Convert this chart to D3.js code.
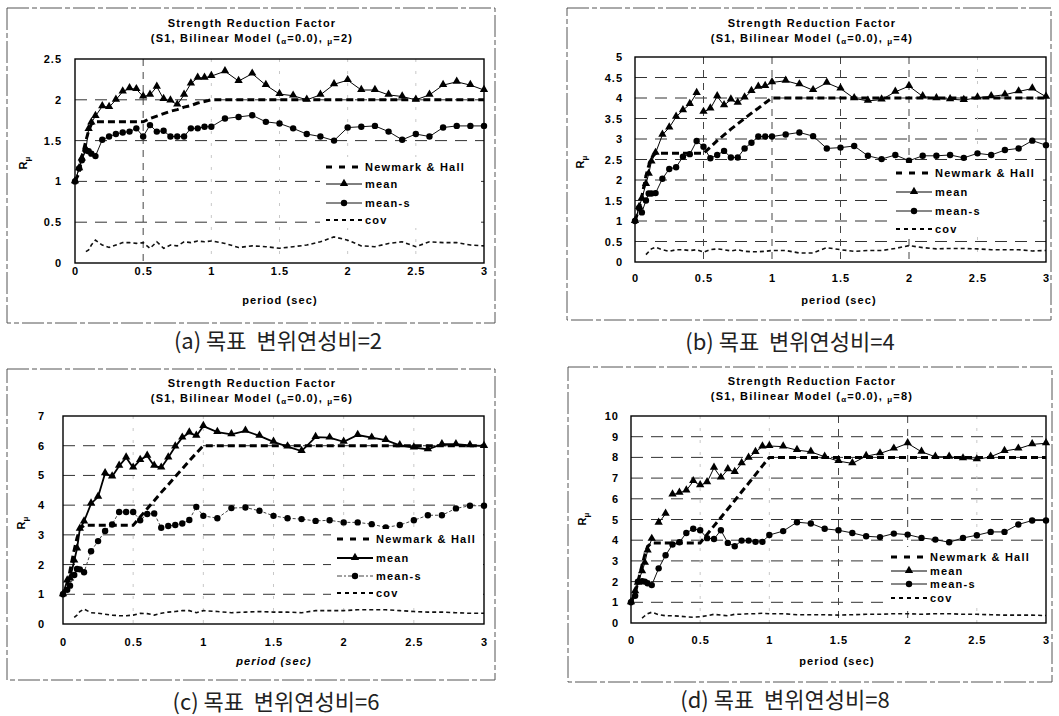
<!DOCTYPE html>
<html>
<head>
<meta charset="utf-8">
<script src="https://cdn.jsdelivr.net/npm/d3@7"></script>
<style>
  body { margin: 0; background: #fff; }
  svg { display: block; }
  text.caption { white-space: pre; }
</style>
</head>
<body>
<svg id="chart" width="1059" height="716"></svg>
<script>
// Natural period (sec) shared by all four panels
const periods = [0, 0.03, 0.05, 0.08, 0.1, 0.12, 0.15,
  0.2, 0.25, 0.3, 0.35, 0.4, 0.45, 0.5, 0.55, 0.6, 0.65, 0.7, 0.75, 0.8, 0.85, 0.9, 0.95, 1.0,
  1.1, 1.2, 1.3, 1.4, 1.5, 1.6, 1.7, 1.8, 1.9, 2.0, 2.1, 2.2, 2.3, 2.4, 2.5, 2.6, 2.7, 2.8, 2.9, 3.0];

const xTicks = [0, 0.5, 1, 1.5, 2, 2.5, 3];

// (a) target ductility 2
const nhA = [1.0, 1.1, 1.3, 1.5, 1.62, 1.7, 1.73,
  1.73, 1.73, 1.73, 1.73, 1.73, 1.73, 1.73, 1.77, 1.80, 1.83, 1.86, 1.88, 1.91, 1.93, 1.96, 1.98, 2.0,
  2, 2, 2, 2, 2, 2, 2, 2, 2, 2, 2, 2, 2, 2, 2, 2, 2, 2, 2, 2];
const meanA = [1.0, 1.16, 1.28, 1.39, 1.64, 1.72, 1.80,
  1.92, 1.91, 2.0, 2.10, 2.14, 2.13, 2.04, 2.06, 2.16, 2.01, 1.99, 1.94, 2.06, 2.20, 2.27, 2.27, 2.29,
  2.35, 2.23, 2.32, 2.18, 2.07, 2.05, 2.0, 2.06, 2.19, 2.24, 2.12, 2.12, 2.06, 2.04, 2.0, 2.06, 2.18, 2.22, 2.18, 2.12];
const meanSA = [1.0, 1.16, 1.26, 1.38, 1.37, 1.34, 1.31,
  1.51, 1.55, 1.58, 1.60, 1.61, 1.65, 1.55, 1.69, 1.61, 1.62, 1.55, 1.55, 1.55, 1.65, 1.65, 1.67, 1.67,
  1.77, 1.79, 1.81, 1.73, 1.71, 1.65, 1.58, 1.55, 1.50, 1.66, 1.67, 1.68, 1.61, 1.51, 1.58, 1.55, 1.66, 1.68, 1.68, 1.68];
const covA = [null, null, null, 0.14, 0.16, 0.22, 0.28,
  0.22, 0.19, 0.22, 0.25, 0.25, 0.24, 0.25, 0.18, 0.26, 0.18, 0.22, 0.21, 0.26, 0.25, 0.27, 0.26, 0.27,
  0.24, 0.19, 0.21, 0.20, 0.18, 0.20, 0.22, 0.26, 0.32, 0.28, 0.21, 0.20, 0.24, 0.26, 0.20, 0.26, 0.25, 0.25, 0.22, 0.21];
const yTicksA = [0, 0.5, 1, 1.5, 2, 2.5];

// (b) target ductility 4
const nhB = [1.0, 1.3, 1.6, 2.1, 2.35, 2.55, 2.65,
  2.65, 2.65, 2.65, 2.65, 2.65, 2.65, 2.65, 2.80, 2.96, 3.10, 3.24, 3.37, 3.50, 3.63, 3.75, 3.88, 4.0,
  4, 4, 4, 4, 4, 4, 4, 4, 4, 4, 4, 4, 4, 4, 4, 4, 4, 4, 4, 4];
const meanB = [1.0, 1.34, 1.55, 1.90, 2.15, 2.45, 2.66,
  3.10, 3.28, 3.54, 3.70, 3.85, 4.12, 3.66, 3.74, 4.04, 3.82, 3.96, 3.88, 4.01, 4.17, 4.27, 4.29, 4.38,
  4.42, 4.33, 4.19, 4.37, 4.23, 3.99, 3.93, 3.96, 4.15, 4.29, 4.04, 3.99, 3.97, 3.95, 4.01, 4.04, 4.08, 4.16, 4.23, 4.03];
const meanSB = [1.0, 1.32, 1.21, 1.50, 1.67, 1.67, 1.68,
  2.03, 2.27, 2.31, 2.57, 2.63, 2.95, 2.81, 2.53, 2.61, 2.71, 2.55, 2.55, 2.77, 2.91, 3.06, 3.06, 3.06,
  3.11, 3.16, 3.07, 2.77, 2.79, 2.83, 2.59, 2.51, 2.61, 2.47, 2.59, 2.59, 2.61, 2.54, 2.65, 2.61, 2.73, 2.77, 2.96, 2.85];
const covB = [null, null, null, 0.18, 0.25, 0.32, 0.36,
  0.30, 0.26, 0.30, 0.30, 0.28, 0.30, 0.24, 0.30, 0.32, 0.30, 0.27, 0.30, 0.26, 0.25, 0.25, 0.26, 0.28,
  0.28, 0.22, 0.22, 0.35, 0.30, 0.26, 0.28, 0.28, 0.33, 0.40, 0.35, 0.32, 0.33, 0.33, 0.32, 0.30, 0.30, 0.30, 0.27, 0.28];
const yTicksB = [0, 0.5, 1, 1.5, 2, 2.5, 3, 3.5, 4, 4.5, 5];

// (c) target ductility 6
const nhC = [1.0, 1.3, 1.8, 2.5, 2.9, 3.2, 3.32,
  3.32, 3.32, 3.32, 3.32, 3.32, 3.32, 3.32, 3.60, 3.88, 4.15, 4.43, 4.69, 4.96, 5.22, 5.49, 5.75, 6.0,
  6, 6, 6, 6, 6, 6, 6, 6, 6, 6, 6, 6, 6, 6, 6, 6, 6, 6, 6, 6];
const meanC = [1.0, 1.46, 1.53, 2.13, 2.54, 3.20, 3.45,
  4.05, 4.28, 5.07, 4.96, 5.32, 5.60, 5.26, 5.52, 5.66, 5.32, 5.26, 5.60, 5.97, 6.27, 6.44, 6.33, 6.66,
  6.46, 6.38, 6.50, 6.33, 6.13, 5.97, 5.82, 6.29, 6.27, 6.13, 6.36, 6.27, 6.19, 6.01, 5.94, 5.88, 6.05, 6.05, 6.01, 5.99];
const meanSC = [1.0, 1.15, 1.29, 1.65, 1.85, 1.84, 1.74,
  2.45, 2.79, 3.13, 3.35, 3.77, 3.77, 3.77, 3.49, 3.70, 3.72, 3.24, 3.30, 3.33, 3.38, 3.50, 3.94, 3.64,
  3.56, 3.90, 3.92, 3.81, 3.64, 3.56, 3.53, 3.47, 3.49, 3.42, 3.42, 3.36, 3.25, 3.33, 3.49, 3.66, 3.66, 3.89, 3.98, 3.98];
const covC = [null, null, null, 0.22, 0.30, 0.42, 0.50,
  0.38, 0.36, 0.33, 0.30, 0.28, 0.28, 0.30, 0.36, 0.35, 0.30, 0.36, 0.40, 0.42, 0.45, 0.45, 0.38, 0.45,
  0.42, 0.38, 0.40, 0.42, 0.40, 0.40, 0.38, 0.45, 0.45, 0.45, 0.48, 0.48, 0.48, 0.45, 0.42, 0.40, 0.40, 0.38, 0.36, 0.36];
const yTicksC = [0, 1, 2, 3, 4, 5, 6, 7];

// (d) target ductility 8
const nhD = [1.0, 1.4, 2.0, 2.8, 3.3, 3.7, 3.87,
  3.87, 3.87, 3.87, 3.87, 3.87, 3.87, 3.87, 4.28, 4.69, 5.10, 5.51, 5.92, 6.34, 6.75, 7.17, 7.59, 8.0,
  8, 8, 8, 8, 8, 8, 8, 8, 8, 8, 8, 8, 8, 8, 8, 8, 8, 8, 8, 8];
const meanD = [1.0, 1.53, 1.94, 2.50, 2.90, 3.50, 4.06,
  4.84, 5.27, 6.20, 6.29, 6.40, 6.85, 6.65, 6.80, 7.50, 7.02, 7.42, 7.29, 7.71, 7.98, 8.26, 8.52, 8.55,
  8.52, 8.35, 8.27, 8.03, 7.82, 7.71, 8.06, 8.19, 8.42, 8.68, 8.27, 8.03, 8.03, 7.95, 7.90, 8.03, 8.31, 8.42, 8.63, 8.68];
const meanSD = [1.0, 1.32, 2.00, 2.02, 2.00, 1.92, 1.83,
  2.64, 3.27, 3.79, 3.90, 4.35, 4.55, 4.48, 4.10, 4.06, 4.48, 3.87, 3.71, 3.98, 3.98, 3.92, 3.92, 4.25,
  4.44, 4.87, 4.81, 4.55, 4.48, 4.35, 4.19, 4.15, 4.32, 4.27, 4.11, 4.03, 3.90, 4.11, 4.24, 4.40, 4.40, 4.76, 4.95, 4.95];
const covD = [null, null, null, 0.24, 0.35, 0.45, 0.52,
  0.40, 0.35, 0.35, 0.33, 0.30, 0.28, 0.30, 0.35, 0.42, 0.38, 0.35, 0.42, 0.42, 0.45, 0.45, 0.47, 0.45,
  0.45, 0.40, 0.40, 0.40, 0.38, 0.40, 0.42, 0.42, 0.45, 0.45, 0.42, 0.45, 0.45, 0.42, 0.42, 0.40, 0.38, 0.38, 0.38, 0.36];
const yTicksD = [0, 1, 2, 3, 4, 5, 6, 7, 8, 9, 10];

const legendLabels = ["Newmark & Hall", "mean", "mean-s", "cov"];

// Layout of each panel
const panels = [
  { tag: "(a)", mu: 2, nh: nhA, mean: meanA, meanS: meanSA, cov: covA, yTicks: yTicksA,
    meanBreaks: [], box: { l: 75, r: 484, t: 59, b: 263 }, frame: { x0: 7, x1: 495, y0: 8, y1: 323 },
    titleX: 252, titleY: 27, yPad: 13, xPad: 4, xLabelX: 280, xLabelY: 304, yLabelX: 27, yLabelY: 163,
    legend: { x1: 326, x2: 362, rows: [167, 184, 203, 220] }, caption: { x: 278, y: 349 },
    vDark: [0.5], thickMean: false, italicX: false },
  { tag: "(b)", mu: 4, nh: nhB, mean: meanB, meanS: meanSB, cov: covB, yTicks: yTicksB,
    meanBreaks: [0.45], box: { l: 635, r: 1046, t: 57, b: 262 }, frame: { x0: 567, x1: 1051, y0: 8, y1: 320 },
    titleX: 812, titleY: 27, yPad: 12, xPad: 12, xLabelX: 839, xLabelY: 304, yLabelX: 584, yLabelY: 162,
    legend: { x1: 896, x2: 932, rows: [173, 192, 211, 229] }, caption: { x: 790, y: 350 },
    vDark: [0.5, 1, 1.5, 2], thickMean: false, italicX: false },
  { tag: "(c)", mu: 6, nh: nhC, mean: meanC, meanS: meanSC, cov: covC, yTicks: yTicksC,
    meanBreaks: [], box: { l: 63, r: 484, t: 416, b: 624 }, frame: { x0: 7, x1: 495, y0: 369, y1: 680 },
    titleX: 252, titleY: 387, yPad: 18, xPad: 14, xLabelX: 274, xLabelY: 665, yLabelX: 25, yLabelY: 523,
    legend: { x1: 337, x2: 373, rows: [539, 558, 576, 593] }, caption: { x: 276, y: 710 },
    vDark: [], thickMean: true, italicX: true },
  { tag: "(d)", mu: 8, nh: nhD, mean: meanD, meanS: meanSD, cov: covD, yTicks: yTicksD,
    meanBreaks: [0.15, 0.25], box: { l: 631, r: 1046, t: 416, b: 623 }, frame: { x0: 568, x1: 1052, y0: 367, y1: 682 },
    titleX: 812, titleY: 385, yPad: 12, xPad: 13, xLabelX: 837, xLabelY: 665, yLabelX: 586, yLabelY: 519,
    legend: { x1: 891, x2: 927, rows: [557, 571, 584, 598] }, caption: { x: 785, y: 708 },
    vDark: [1.5, 2], thickMean: false, italicX: false }
];

const svg = d3.select("#chart");
svg.append("rect").attr("width", 1059).attr("height", 716).attr("fill", "#fff");

const FONT = "'Liberation Sans', Arial, sans-serif";
const fmt = d => String(+d.toFixed(2));
const triangle = d3.symbol(d3.symbolTriangle, 30);

// Split a series into separately drawn runs, breaking after the given periods
function runs(values, breaks) {
  const out = [];
  let cur = [];
  periods.forEach((p, i) => {
    const v = values[i];
    if (v == null) return;
    cur.push([p, v]);
    if (breaks.some(b => Math.abs(b - p) < 1e-9)) { out.push(cur); cur = []; }
  });
  if (cur.length) out.push(cur);
  return out;
}

panels.forEach(p => {
  const g = svg.append("g");
  const { l, r, t, b } = p.box;
  const yMax = p.yTicks[p.yTicks.length - 1];
  const x = d3.scaleLinear().domain([0, 3]).range([l, r]);
  const y = d3.scaleLinear().domain([0, yMax]).range([b, t]);

  // dashed frame around the figure
  const f = p.frame;
  g.append("rect")
    .attr("x", f.x0).attr("y", f.y0).attr("width", f.x1 - f.x0).attr("height", f.y1 - f.y0)
    .attr("fill", "none").attr("stroke", "#555").attr("stroke-width", 1)
    .attr("stroke-dasharray", "22,3,5,3");

  // horizontal gridlines
  g.append("g").selectAll("line")
    .data(p.yTicks.filter(v => v > 0 && v < yMax))
    .join("line")
    .attr("x1", l).attr("x2", r)
    .attr("y1", d => y(d)).attr("y2", d => y(d))
    .attr("stroke", "#333").attr("stroke-width", 1).attr("stroke-dasharray", "12,8");

  // vertical gridlines (faint, some printed darker)
  g.append("g").selectAll("line")
    .data(xTicks.filter(v => v > 0 && v < 3))
    .join("line")
    .attr("x1", d => x(d)).attr("x2", d => x(d))
    .attr("y1", t).attr("y2", b)
    .attr("stroke", d => p.vDark.includes(d) ? "#444" : "#c8c8c8")
    .attr("stroke-width", 1)
    .attr("stroke-dasharray", d => p.vDark.includes(d) ? "7,6" : "3,9");

  const line = d3.line().x(d => x(d[0])).y(d => y(d[1]));

  // cov
  runs(p.cov, []).forEach(seg => {
    g.append("path").attr("d", line(seg)).attr("fill", "none")
      .attr("stroke", "#111").attr("stroke-width", 1.6).attr("stroke-dasharray", "4,3");
  });

  // Newmark & Hall
  runs(p.nh, []).forEach(seg => {
    g.append("path").attr("d", line(seg)).attr("fill", "none")
      .attr("stroke", "#000").attr("stroke-width", 3).attr("stroke-dasharray", "7,4");
  });

  // mean - s
  const msStroke = p.thickMean ? "#444" : "#111";
  const msDash = p.thickMean ? "3,2" : null;
  runs(p.meanS, []).forEach(seg => {
    g.append("path").attr("d", line(seg)).attr("fill", "none")
      .attr("stroke", msStroke).attr("stroke-width", 1).attr("stroke-dasharray", msDash);
  });
  g.append("g").selectAll("circle")
    .data(periods.map((q, i) => [q, p.meanS[i]]).filter(d => d[1] != null))
    .join("circle")
    .attr("cx", d => x(d[0])).attr("cy", d => y(d[1])).attr("r", 3.2).attr("fill", "#000");

  // mean
  runs(p.mean, p.meanBreaks).forEach(seg => {
    g.append("path").attr("d", line(seg)).attr("fill", "none")
      .attr("stroke", "#000").attr("stroke-width", p.thickMean ? 1.8 : 1);
  });
  g.append("g").selectAll("path")
    .data(periods.map((q, i) => [q, p.mean[i]]).filter(d => d[1] != null))
    .join("path")
    .attr("d", triangle)
    .attr("transform", d => `translate(${x(d[0])},${y(d[1]) - 0.5})`)
    .attr("fill", "#000");

  // plot border
  g.append("rect").attr("x", l).attr("y", t).attr("width", r - l).attr("height", b - t)
    .attr("fill", "none").attr("stroke", "#000").attr("stroke-width", 1.4);

  // axes
  const yAxis = d3.axisLeft(y).tickValues(p.yTicks).tickSize(0).tickPadding(p.yPad).tickFormat(fmt);
  g.append("g").attr("transform", `translate(${l},0)`).call(yAxis)
    .call(s => s.select(".domain").remove())
    .attr("font-family", FONT).attr("font-size", 11).attr("font-weight", "bold")
    .selectAll("text").attr("fill", "#000").attr("letter-spacing", 1);

  const xAxis = d3.axisBottom(x).tickValues(xTicks).tickSize(0).tickPadding(p.xPad).tickFormat(fmt);
  g.append("g").attr("transform", `translate(0,${b})`).call(xAxis)
    .call(s => s.select(".domain").remove())
    .attr("font-family", FONT).attr("font-size", 11).attr("font-weight", "bold")
    .selectAll("text").attr("fill", "#000").attr("letter-spacing", 1);

  // axis titles
  g.append("text").attr("x", p.xLabelX).attr("y", p.xLabelY)
    .attr("text-anchor", "middle").attr("font-family", FONT).attr("font-size", 11)
    .attr("font-weight", "bold").attr("font-style", p.italicX ? "italic" : "normal")
    .attr("letter-spacing", 1.1).text("period (sec)");

  const yl = g.append("text")
    .attr("transform", `translate(${p.yLabelX},${p.yLabelY}) rotate(-90)`)
    .attr("text-anchor", "middle").attr("font-family", FONT).attr("font-size", 11)
    .attr("font-weight", "bold");
  yl.append("tspan").text("R");
  yl.append("tspan").attr("font-size", 8).attr("dy", 3).text("μ");

  // chart title
  const tt = g.append("g").attr("font-family", FONT).attr("font-weight", "bold")
    .attr("font-size", 11).attr("text-anchor", "middle").attr("letter-spacing", 1.2);
  tt.append("text").attr("x", p.titleX).attr("y", p.titleY).text("Strength Reduction Factor");
  const t2 = tt.append("text").attr("x", p.titleX).attr("y", p.titleY + 15);
  t2.append("tspan").text("(S1, Bilinear Model (");
  t2.append("tspan").attr("font-size", 8).attr("dy", 2).text("α");
  t2.append("tspan").attr("dy", -2).text("=0.0),  ");
  t2.append("tspan").attr("font-size", 8).attr("dy", 2).text("μ");
  t2.append("tspan").attr("dy", -2).text("=" + p.mu + ")");

  // legend
  const L = p.legend;
  const lg = g.append("g");
  lg.append("rect").attr("x", L.x1 - 6).attr("y", L.rows[0] - 10)
    .attr("width", r - 3 - (L.x1 - 6)).attr("height", L.rows[3] - L.rows[0] + 18).attr("fill", "#fff");
  const mid = (L.x1 + L.x2) / 2;
  // Newmark & Hall sample
  lg.append("line").attr("x1", L.x1).attr("x2", L.x2).attr("y1", L.rows[0]).attr("y2", L.rows[0])
    .attr("stroke", "#000").attr("stroke-width", 3).attr("stroke-dasharray", "6,7");
  // mean sample
  lg.append("line").attr("x1", L.x1).attr("x2", L.x2).attr("y1", L.rows[1]).attr("y2", L.rows[1])
    .attr("stroke", "#000").attr("stroke-width", p.thickMean ? 1.8 : 1);
  lg.append("path").attr("d", triangle).attr("transform", `translate(${mid},${L.rows[1] - 0.5})`);
  // mean-s sample
  lg.append("line").attr("x1", L.x1).attr("x2", L.x2).attr("y1", L.rows[2]).attr("y2", L.rows[2])
    .attr("stroke", msStroke).attr("stroke-width", 1).attr("stroke-dasharray", p.thickMean ? "5,2,2,2" : null);
  lg.append("circle").attr("cx", mid).attr("cy", L.rows[2]).attr("r", 3.2);
  // cov sample
  lg.append("line").attr("x1", L.x1).attr("x2", L.x2).attr("y1", L.rows[3]).attr("y2", L.rows[3])
    .attr("stroke", "#000").attr("stroke-width", 1.8).attr("stroke-dasharray", "4,4");
  lg.selectAll("text.lab").data(legendLabels).join("text").attr("class", "lab")
    .attr("x", L.x2 + 3).attr("y", (d, i) => L.rows[i] + 4)
    .attr("font-family", FONT).attr("font-size", 11).attr("font-weight", "bold")
    .attr("letter-spacing", 1.2).text(d => d);

  // caption, sized to span about 230px
  const cap = g.append("text").attr("class", "caption")
    .attr("x", p.caption.x).attr("y", p.caption.y).attr("text-anchor", "middle")
    .attr("font-family", "'Noto Sans CJK KR', sans-serif").attr("font-size", 20)
    .attr("fill", "#222")
    .text(p.tag + " 목표  변위연성비=" + p.mu);
  const w = cap.node().getComputedTextLength();
  if (w > 0) cap.attr("font-size", Math.min(22, 20 * 230 / w));
});
</script>
</body>
</html>
